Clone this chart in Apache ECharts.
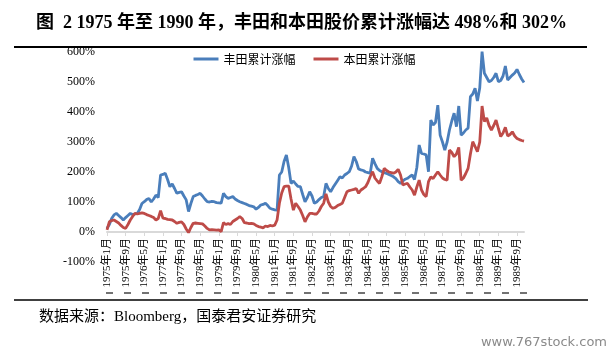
<!DOCTYPE html>
<html>
<head>
<meta charset="utf-8">
<script src="https://cdn.jsdelivr.net/npm/echarts@6/dist/echarts.min.js"></script>
<style>
  html, body { margin: 0; padding: 0; background: #fff; }
  #main { width: 609px; height: 350px; }
</style>
</head>
<body>
<div id="main"></div>
<script>
// 月度类目 1975年1月 - 1989年12月
var months = [];
for (var y = 1975; y <= 1989; y++) {
    for (var m = 1; m <= 12; m++) {
        months.push(y + '年' + m + '月');
    }
}

// 丰田累计涨幅 (%)
var toyota = [
    12, 25, 45, 57, 62, 55, 48, 40, 48, 55, 62, 58,
    60, 62, 75, 95, 101, 108, 112, 100, 110, 123, 115, 190,
    192, 196, 175, 151, 160, 145, 129, 132, 134, 120, 107, 68,
    95, 118, 122, 125, 129, 120, 110, 101, 100, 102, 101, 98,
    97, 96, 129, 118, 112, 115, 118, 110, 105, 101, 98, 95,
    92, 88, 86, 84, 76, 82, 90, 92, 96, 88, 79, 76,
    74, 73, 190, 200, 235, 257, 215, 162, 170, 160, 152, 151,
    125, 101, 115, 134, 120, 96, 100, 108, 115, 118, 162, 145,
    134, 148, 160, 172, 184, 180, 190, 195, 201, 220, 251, 235,
    210, 207, 205, 200, 198, 196, 246, 228, 212, 205, 201, 198,
    195, 192, 188, 184, 178, 168, 162, 170, 176, 179, 185, 190,
    175, 215, 290, 262, 260, 257, 201, 373, 357, 365, 423, 323,
    300, 273, 300, 340, 370, 396, 351, 420, 323, 330, 340, 346,
    451, 460, 479, 437, 480, 601, 529, 515, 501, 505, 515, 529,
    501, 505, 520, 553, 507, 515, 523, 530, 542, 525, 510, 498
];

// 本田累计涨幅 (%)
var honda = [
    7, 34, 38, 40, 35, 30, 22, 15, 12, 25, 40, 52,
    62, 60, 62, 64, 62, 58, 55, 52, 48, 40, 45, 71,
    46, 45, 42, 41, 40, 35, 29, 32, 34, 25, 10, -2,
    15, 29, 30, 29, 28, 27, 20, 12, 7, 8, 7, 6,
    7, 1, 31, 25, 28, 25, 35, 40, 45, 51, 45, 31,
    30, 28, 29, 27, 22, 18, 16, 14, 20, 18, 22, 20,
    23, 40, 96, 130, 151, 153, 153, 110, 73, 96, 85, 73,
    55, 34, 50, 62, 62, 60, 60, 70, 85, 96, 127, 100,
    85, 79, 82, 88, 92, 96, 115, 134, 138, 140, 142, 145,
    129, 140, 145, 151, 165, 185, 201, 180, 170, 162, 185, 212,
    205, 200, 198, 196, 200, 209, 190, 157, 160, 162, 150, 140,
    123, 150, 173, 140, 125, 118, 168, 184, 178, 190, 201, 190,
    180, 175, 173, 273, 265, 251, 260, 282, 173, 180, 195, 212,
    260, 301, 285, 268, 300, 420, 368, 380, 355, 340, 355, 373,
    345, 318, 330, 349, 320, 325, 334, 320, 312, 308, 305, 303
];

var serif = '"Liberation Serif", "Times New Roman", "Noto Sans CJK SC", serif';
var cjk = '"Noto Sans CJK SC", sans-serif';

var myChart = echarts.init(document.getElementById('main'));
var option = {
    backgroundColor: '#fff',
    animation: false,
    title: {
        text: '图  2 1975 年至 1990 年，丰田和本田股价累计涨幅达 498%和 302%',
        left: 31,
        top: 9,
        textStyle: {
            fontFamily: serif,
            fontWeight: 'bold',
            fontSize: 18,
            color: '#000'
        }
    },
    legend: {
        data: ['丰田累计涨幅', '本田累计涨幅'],
        top: 48,
        left: 'center',
        itemWidth: 25,
        itemHeight: 3,
        itemGap: 18,
        icon: 'rect',
        textStyle: { fontFamily: cjk, fontSize: 12, color: '#000' }
    },
    grid: {
        left: 107,
        right: 85,
        top: 52,
        bottom: 88,
        containLabel: false
    },
    xAxis: {
        type: 'category',
        data: months,
        boundaryGap: false,
        axisLine: { onZero: true, lineStyle: { color: '#d9d9d9', width: 2 } },
        axisTick: { interval: 7, length: 4, lineStyle: { color: '#d9d9d9' } },
        axisLabel: {
            interval: 7,
            rotate: 90,
            margin: -24,
            fontFamily: serif,
            fontSize: 11,
            color: '#000'
        }
    },
    yAxis: {
        type: 'value',
        min: -100,
        max: 600,
        interval: 100,
        axisLine: { show: false },
        axisTick: { show: false },
        splitLine: { show: false },
        axisLabel: {
            formatter: '{value}%',
            margin: 12,
            fontFamily: serif,
            fontSize: 12,
            color: '#000'
        }
    },
    series: [
        {
            name: '丰田累计涨幅',
            type: 'line',
            data: toyota,
            showSymbol: false,
            lineStyle: { color: '#4a7ebb', width: 2.8 },
            itemStyle: { color: '#4a7ebb' }
        },
        {
            name: '本田累计涨幅',
            type: 'line',
            data: honda,
            showSymbol: false,
            lineStyle: { color: '#be4b48', width: 2.8 },
            itemStyle: { color: '#be4b48' }
        }
    ],
    graphic: [
        { type: 'line', z: 100, shape: { x1: 14, y1: 47, x2: 587, y2: 47 }, style: { stroke: '#000', lineWidth: 2 } },
        { type: 'line', z: 100, shape: { x1: 106, y1: 293, x2: 527, y2: 293 }, style: { stroke: '#444', lineWidth: 1.5, lineDash: [7, 11] } },
        { type: 'line', z: 100, shape: { x1: 14, y1: 300, x2: 588, y2: 300 }, style: { stroke: '#000', lineWidth: 1.5 } },
        {
            type: 'text', left: 39, top: 310,
            style: { text: '数据来源：Bloomberg，国泰君安证券研究', font: '15px ' + serif, fill: '#000' }
        },
        {
            type: 'text', right: 2, top: 336,
            style: { text: 'www.767stock.com', font: '13px "DejaVu Sans", sans-serif', fill: '#8a8a8a' }
        }
    ]
};

myChart.setOption(option);
</script>
</body>
</html>
